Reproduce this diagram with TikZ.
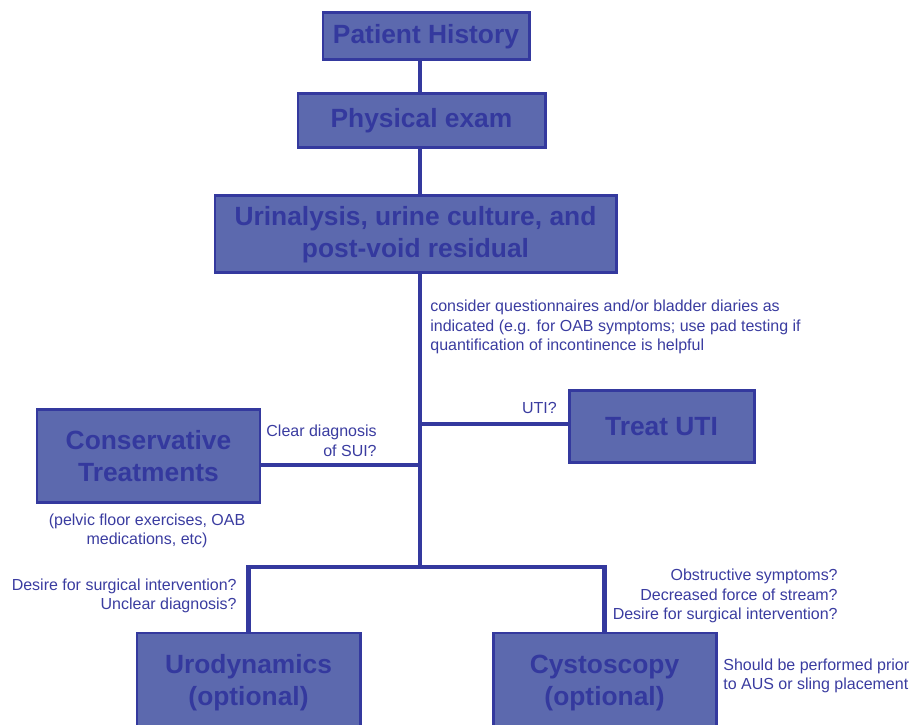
\documentclass[tikz,border=0pt]{standalone}
\usepackage{fontspec}
\setmainfont{Liberation Sans}
\usepackage[]{tikz}
\usetikzlibrary{positioning}
\definecolor{boxfill}{RGB}{92,105,174}
\definecolor{boxline}{RGB}{52,57,158}
\definecolor{notetext}{RGB}{58,60,160}
\tikzset{flowbox/.style={draw=boxline,fill=boxfill,line width=1.7pt,text=boxline,font=\fontsize{15}{18.2}\selectfont\bfseries,align=center,inner sep=0pt},
         note/.style={text=notetext,font=\fontsize{9.1}{11.1}\selectfont,inner sep=0pt},
         link/.style={boxline,line width=2.3pt}}

\begin{document}
\begin{tikzpicture}[scale=1]
            \useasboundingbox (0,0) rectangle (18.22,14.5);
            \clip (0,0) rectangle (18.22,14.5);
            \node[flowbox,minimum width=4.12cm,minimum height=0.94cm] (patient) at (8.52,13.77) {Patient History};
            \node[flowbox,minimum width=4.94cm,minimum height=1.08cm] (physical) at (8.43,12.08) {Physical exam};
            \node[flowbox,minimum width=8.02cm,minimum height=1.54cm] (urinalysis) at (8.31,9.81) {Urinalysis, urine culture, and\\post-void residual};
            \node[flowbox,minimum width=3.70cm,minimum height=1.44cm] (treatuti) at (13.23,5.96) {Treat UTI};
            \node[flowbox,minimum width=4.46cm,minimum height=1.86cm] (conservative) at (2.97,5.37) {Conservative\\Treatments};
            \node[flowbox,minimum width=4.46cm,minimum height=2.0cm] (urodyn) at (4.97,0.84) {Urodynamics\\(optional)};
            \node[flowbox,minimum width=4.46cm,minimum height=2.0cm] (cysto) at (12.09,0.84) {Cystoscopy\\(optional)};
            \coordinate (split) at (8.40,3.16);
            \draw[link] (patient.south -| split) -- (physical.north -| split);
            \draw[link] (physical.south -| split) -- (urinalysis.north -| split);
            \draw[link] (urinalysis.south -| split) -- (split);
            \draw[link] (treatuti.west |- 0,6.02) -- (split |- 0,6.02);
            \draw[link] ([yshift=-0.17cm]conservative.east) -- ([yshift=-0.17cm]conservative.east -| split);
            \draw[link] (urodyn.north) -- (urodyn.north |- split) -- (cysto.north |- split) -- (cysto.north);
            \node[note,anchor=north west,align=left] (questions) at (8.60,8.50) {consider questionnaires and/or bladder diaries as\\indicated (e.g. for OAB symptoms; use pad testing if\\quantification of incontinence is helpful};
            \node[note,anchor=east] (utiq) at (11.14,6.34) {UTI?};
            \node[note,anchor=east,align=right] (suiq) at (7.54,5.68) {Clear diagnosis\\of SUI?};
            \node[note,align=center] (pelvic) at (2.94,3.88) {(pelvic floor exercises, OAB\\medications, etc)};
            \node[note,anchor=east,align=right] (urodynq) at (4.74,2.58) {Desire for surgical intervention?\\Unclear diagnosis?};
            \node[note,anchor=east,align=right] (cystoq) at (16.76,2.58) {Obstructive symptoms?\\Decreased force of stream?\\Desire for surgical intervention?};
            \node[note,anchor=west,align=left] (prior) at (14.46,0.98) {Should be performed prior\\to AUS or sling placement};
        \end{tikzpicture}
\end{document}
